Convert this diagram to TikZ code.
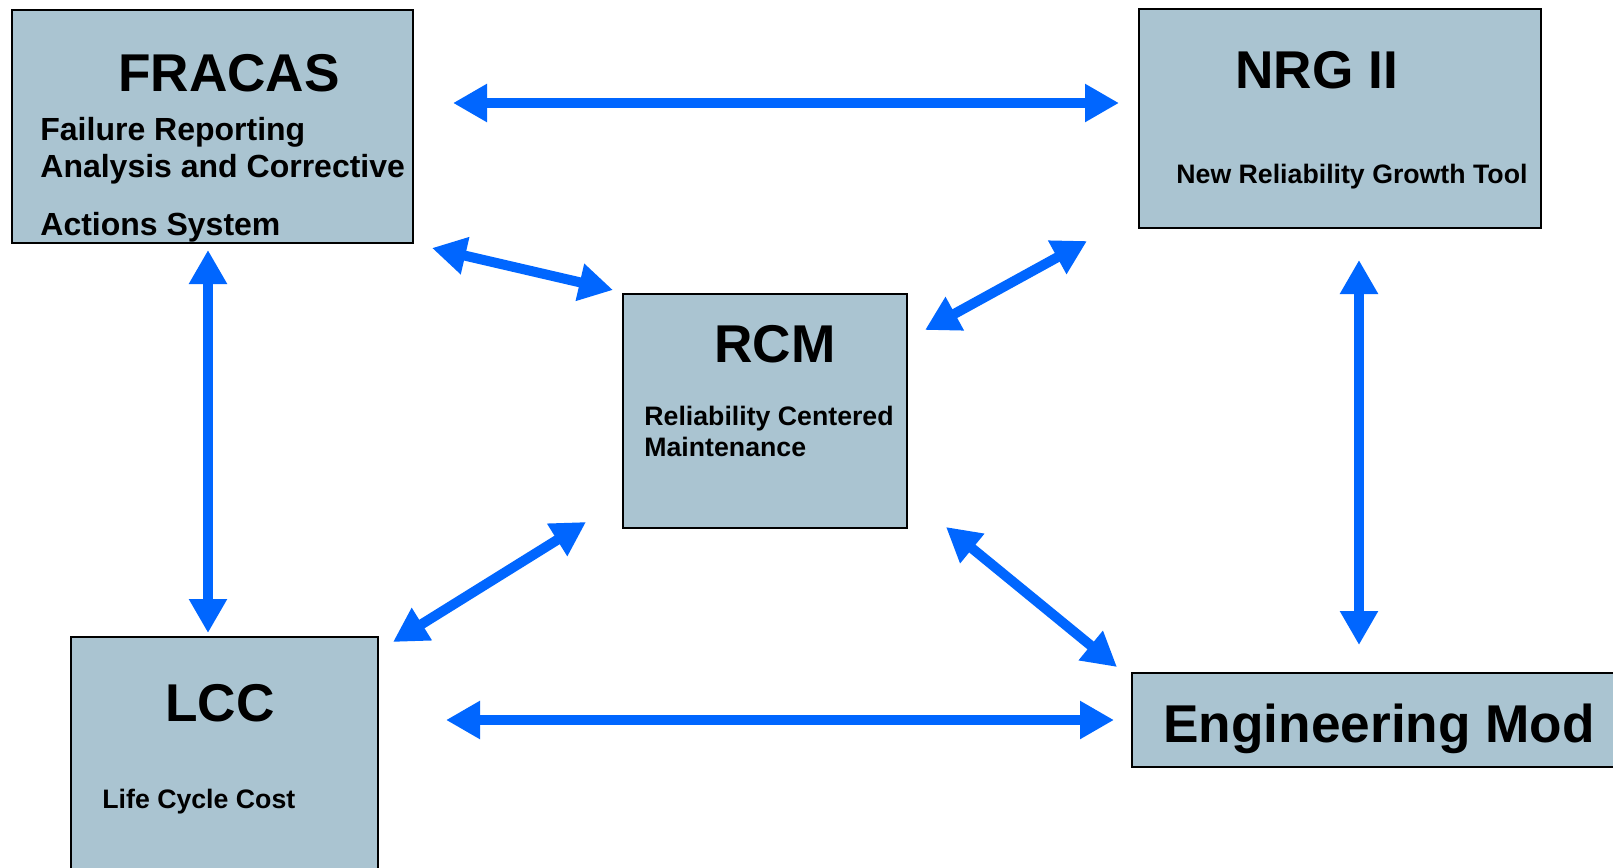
\documentclass[tikz,border=0pt]{standalone}
\usepackage{fontspec}
\setmainfont{Liberation Sans}
\usetikzlibrary{arrows.meta}
\definecolor{boxfill}{RGB}{170,196,209}
\definecolor{arrowblue}{RGB}{0,102,255}
\tikzset{
  box/.style={draw=black, line width=1.2pt, fill=boxfill, inner sep=0pt, outer sep=0pt, rectangle},
  title/.style={font=\fontsize{26.6}{32}\selectfont\bfseries, anchor=base, inner sep=0pt},
  subbig/.style={font=\fontsize{16}{19}\selectfont\bfseries, anchor=base west, inner sep=0pt},
  sub/.style={font=\fontsize{13.35}{16}\selectfont\bfseries, anchor=base west, inner sep=0pt},
  biarrow/.style={draw=arrowblue, line width=5pt, {Triangle[length=17pt,width=18pt]}-{Triangle[length=17pt,width=18pt]}},
}
\begin{document}
\begin{tikzpicture}[x=0.5pt,y=-0.5pt]
\path[use as bounding box] (0,0) rectangle (1613,868);
\clip (0,0) rectangle (1613,868);
\fill[white] (0,0) rectangle (1613,868);

% boxes
\node[box, minimum width=200.5pt, minimum height=116.5pt] (fracas) at (212.5,126.5) {};
\node[box, minimum width=201pt, minimum height=109.5pt] (nrg) at (1340,118.5) {};
\node[box, minimum width=142pt, minimum height=117pt] (rcm) at (765,411) {};
\node[box, minimum width=249pt, minimum height=47pt] (eng) at (1381,720) {};
\node[box, minimum width=153.5pt, minimum height=124pt] (lcc) at (224.5,761) {};

% texts
\node[title] (fracasT) at (229,91) {FRACAS};
\node[subbig] (fracas1) at (40,140) {Failure Reporting};
\node[subbig] (fracas2) at (40,177) {Analysis and Corrective};
\node[subbig] (fracas3) at (40,235) {Actions System};

\node[title, anchor=base west] (nrgT) at (1235,88) {NRG II};
\node[sub] (nrg1) at (1176,183) {New Reliability Growth Tool};

\node[title] (rcmT) at (775,362) {RCM};
\node[sub] (rcm1) at (644,425) {Reliability Centered};
\node[sub] (rcm2) at (644,456) {Maintenance};

\node[title] (lccT) at (220,721) {LCC};
\node[sub] (lcc1) at (102,808) {Life Cycle Cost};

\node[title, anchor=base west] (engT) at (1163,742) {Engineering Mod};

% arrow end points
\coordinate (a1s) at (453,103);  \coordinate (a1e) at (1119,103);
\coordinate (a2s) at (432,248);  \coordinate (a2e) at (613,290);
\coordinate (a3s) at (1087,241); \coordinate (a3e) at (925,330);
\coordinate (a4s) at (208,250);  \coordinate (a4e) at (208,633);
\coordinate (a5s) at (1359,260); \coordinate (a5e) at (1359,645);
\coordinate (a6s) at (586,522);  \coordinate (a6e) at (393,642);
\coordinate (a7s) at (946,527);  \coordinate (a7e) at (1117,667);
\coordinate (a8s) at (446,720);  \coordinate (a8e) at (1114,720);

\draw[biarrow] (a1s) -- (a1e);
\draw[biarrow] (a2s) -- (a2e);
\draw[biarrow] (a3s) -- (a3e);
\draw[biarrow] (a4s) -- (a4e);
\draw[biarrow] (a5s) -- (a5e);
\draw[biarrow] (a6s) -- (a6e);
\draw[biarrow] (a7s) -- (a7e);
\draw[biarrow] (a8s) -- (a8e);
\end{tikzpicture}
\end{document}
